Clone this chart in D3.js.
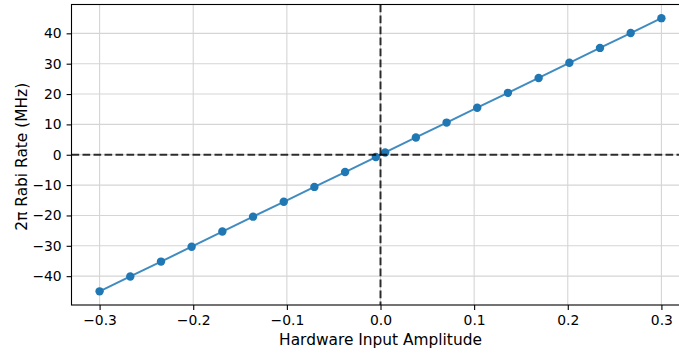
<!DOCTYPE html>
<html><head><meta charset="utf-8">
<script src="https://cdn.jsdelivr.net/npm/d3@7"></script>
<style>body{margin:0;background:#fff}svg{display:block}text{font-family:"DejaVu Sans",sans-serif}</style>
</head><body><svg id="c" width="679" height="353"></svg>
<script>
const amplitudes = [-0.3, -0.2672, -0.2344, -0.2017, -0.1689, -0.1361, -0.1033, -0.0706, -0.0378, -0.005,
                    0.005, 0.0378, 0.0706, 0.1033, 0.1361, 0.1689, 0.2017, 0.2344, 0.2672, 0.3];
const rabiRates = [-45.0, -40.1, -35.2, -30.3, -25.3, -20.4, -15.5, -10.6, -5.7, -0.75,
                   0.75, 5.7, 10.6, 15.5, 20.4, 25.3, 30.3, 35.2, 40.1, 45.0];
const xTicks = [-0.3, -0.2, -0.1, 0.0, 0.1, 0.2, 0.3];
const yTicks = [-40, -30, -20, -10, 0, 10, 20, 30, 40];
const xLabel = "Hardware Input Amplitude";
const yLabel = "2π Rabi Rate (MHz)";

const svg = d3.select("#c");
const L = 71.5, R = 689.5, T = 4.5, B = 305;
const x = d3.scaleLinear().domain([-0.33, 0.33]).range([L, R]);
const y = d3.scaleLinear().domain([-49.5, 49.5]).range([B, T]);
const fmtX = d => (d < 0 ? "\u2212" : "") + Math.abs(d).toFixed(1);
const fmtY = d => (d < 0 ? "\u2212" : "") + Math.abs(d);

// grid
const g = svg.append("g");
g.selectAll(".gx").data(xTicks).enter().append("line")
  .attr("x1", d => x(d)).attr("x2", d => x(d)).attr("y1", T).attr("y2", B)
  .attr("stroke", "#d5d5d5").attr("stroke-width", 1.1);
g.selectAll(".gy").data(yTicks).enter().append("line")
  .attr("x1", L).attr("x2", R).attr("y1", d => y(d)).attr("y2", d => y(d))
  .attr("stroke", "#d5d5d5").attr("stroke-width", 1.1);

// data
const line = d3.line().x((d, i) => x(amplitudes[i])).y(d => y(d));
svg.append("path").datum(rabiRates).attr("d", line)
  .attr("fill", "none").attr("stroke", "#1f77b4").attr("stroke-width", 2).attr("opacity", 0.85);
svg.selectAll(".pt").data(rabiRates).enter().append("circle")
  .attr("cx", (d, i) => x(amplitudes[i])).attr("cy", d => y(d)).attr("r", 4.2)
  .attr("fill", "#1f77b4");

// dashed zero lines
svg.append("line").attr("x1", L).attr("x2", R).attr("y1", y(0)).attr("y2", y(0))
  .attr("stroke", "#000").attr("stroke-width", 2).attr("stroke-dasharray", "7.7,3.3").attr("opacity", 0.8);
svg.append("line").attr("x1", x(0)).attr("x2", x(0)).attr("y1", T).attr("y2", B)
  .attr("stroke", "#000").attr("stroke-width", 2).attr("stroke-dasharray", "7.7,3.3").attr("opacity", 0.8);

// axes
const xa = svg.append("g").attr("transform", `translate(0,${B})`)
  .call(d3.axisBottom(x).tickValues(xTicks).tickFormat(fmtX).tickSize(4.9).tickPadding(4.9));
const ya = svg.append("g").attr("transform", `translate(${L},0)`)
  .call(d3.axisLeft(y).tickValues(yTicks).tickFormat(fmtY).tickSize(4.9).tickPadding(4.9));
[xa, ya].forEach(a => {
  a.select(".domain").remove();
  a.selectAll(".tick line").attr("stroke", "#000").attr("stroke-width", 1.1);
  a.selectAll("text").attr("font-size", 13.9).attr("fill", "#000").attr("font-family", "DejaVu Sans");
});

// spines
svg.append("rect").attr("x", L).attr("y", T).attr("width", R - L).attr("height", B - T)
  .attr("fill", "none").attr("stroke", "#000").attr("stroke-width", 1.1);

svg.append("text").attr("x", x(0)).attr("y", 344.5).attr("text-anchor", "middle")
  .attr("font-size", 15.4).text(xLabel);
svg.append("text").attr("transform", `translate(27,${(T + B) / 2 + 2}) rotate(-90)`).attr("text-anchor", "middle")
  .attr("font-size", 15.4).text(yLabel);
</script></body></html>
